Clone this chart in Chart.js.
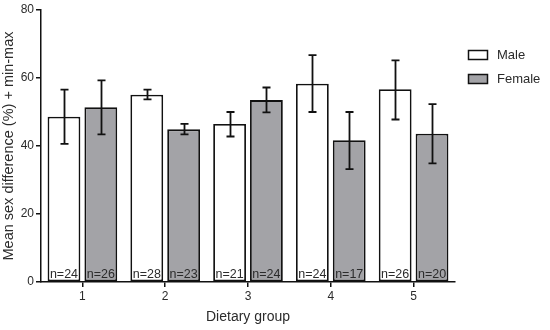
<!DOCTYPE html>
<html>
<head>
<meta charset="utf-8">
<script src="https://cdn.jsdelivr.net/npm/chart.js@4"></script>
<style>
  html, body { margin: 0; padding: 0; background: #fff; }
  #wrap { width: 550px; height: 330px; }
</style>
</head>
<body>
<div id="wrap"><canvas id="myBarChart"></canvas></div>
<script>
// data
var groups = ["1", "2", "3", "4", "5"];
var maleMean = [48.6, 55.1, 46.5, 58.3, 56.7];
var maleMin = [40.6, 53.7, 42.8, 50.0, 47.8];
var maleMax = [56.6, 56.6, 50.0, 66.7, 65.2];
var femaleMean = [51.4, 44.9, 53.5, 41.7, 43.6];
var femaleMin = [43.4, 43.4, 49.9, 33.2, 34.9];
var femaleMax = [59.3, 46.5, 57.2, 50.0, 52.3];
var maleN = [24, 28, 21, 24, 26];
var femaleN = [26, 23, 24, 17, 20];
var yTicks = [0, 20, 40, 60, 80];

var FONT = "'Liberation Sans', Arial, Helvetica, sans-serif";
var TXT = "#2b2b2b";

// min-max whiskers + n labels
var extras = {
  id: "extras",
  afterDatasetsDraw: function(chart) {
    var ctx = chart.ctx;
    var ys = chart.scales.y;
    var lows = [maleMin, femaleMin];
    var highs = [maleMax, femaleMax];
    var ns = [maleN, femaleN];
    ctx.save();
    for (var d = 0; d < 2; d++) {
      var meta = chart.getDatasetMeta(d);
      meta.data.forEach(function(bar, i) {
        var x = Math.round(bar.x) + 0.5;
        var y1 = ys.getPixelForValue(highs[d][i]);
        var y2 = ys.getPixelForValue(lows[d][i]);
        ctx.strokeStyle = "#111";
        ctx.lineWidth = 1.8;
        ctx.beginPath();
        ctx.moveTo(x, y1); ctx.lineTo(x, y2);
        ctx.moveTo(x - 4, y1); ctx.lineTo(x + 4, y1);
        ctx.moveTo(x - 4, y2); ctx.lineTo(x + 4, y2);
        ctx.stroke();
        // n label
        ctx.fillStyle = TXT;
        ctx.font = "12.5px " + FONT;
        ctx.textAlign = "center";
        ctx.textBaseline = "alphabetic";
        ctx.fillText("n=" + ns[d][i], bar.x, chart.chartArea.bottom - 4);
      });
    }
    ctx.restore();
  },
  afterDraw: function(chart) {
    // legend to the right of the plot
    var ctx = chart.ctx;
    ctx.save();
    chart.data.datasets.forEach(function(ds, i) {
      var bx = 468, by = 50 + i * 24;
      ctx.fillStyle = ds.backgroundColor;
      ctx.fillRect(bx, by, 20, 10);
      ctx.strokeStyle = "#111";
      ctx.lineWidth = 1.5;
      ctx.strokeRect(bx + 0.5, by + 0.5, 19, 9);
      ctx.fillStyle = TXT;
      ctx.font = "13px " + FONT;
      ctx.textAlign = "left";
      ctx.textBaseline = "middle";
      ctx.fillText(ds.label, bx + 29, by + 5);
    });
    ctx.restore();
  }
};

var ctx = document.getElementById("myBarChart");
var myBarChart = new Chart(ctx, {
  type: "bar",
  data: {
    labels: groups,
    datasets: [{
      label: "Male",
      data: maleMean,
      backgroundColor: "#ffffff",
      borderColor: "#111111",
      borderWidth: 1.8,
      borderSkipped: false
    }, {
      label: "Female",
      data: femaleMean,
      backgroundColor: "#a3a3a7",
      borderColor: "#111111",
      borderWidth: 1.8,
      borderSkipped: false
    }]
  },
  plugins: [extras],
  options: {
    responsive: true,
    maintainAspectRatio: false,
    animation: false,
    categoryPercentage: 0.89,
    barPercentage: 0.89,
    layout: { padding: { top: 10, right: 95, left: 0, bottom: 0 } },
    plugins: {
      legend: { display: false },
      tooltip: { enabled: false }
    },
    scales: {
      x: {
        offset: true,
        grid: { offset: false, drawOnChartArea: false, drawTicks: true, tickLength: 5, color: "#111", lineWidth: 1.5 },
        border: { color: "#111", width: 1.5 },
        ticks: { color: TXT, font: { family: FONT, size: 12 }, padding: 2 },
        title: { display: true, text: "Dietary group", color: TXT, font: { family: FONT, size: 14 }, padding: { top: 6 } },
        afterFit: function(s) { s.height = 48; }
      },
      y: {
        min: 0,
        max: 80,
        afterBuildTicks: function(s) { s.ticks = yTicks.map(function(v) { return { value: v }; }); },
        grid: { drawOnChartArea: false, drawTicks: true, tickLength: 5, color: "#111", lineWidth: 1.5 },
        border: { color: "#111", width: 1.5 },
        ticks: { color: TXT, font: { family: FONT, size: 12 }, padding: 2 },
        title: { display: true, text: "Mean sex difference (%) + min-max", color: TXT, font: { family: FONT, size: 14.5 }, padding: { top: 0, bottom: 2 } },
        afterFit: function(s) { s.width = 41; }
      }
    }
  }
});
</script>
</body>
</html>
